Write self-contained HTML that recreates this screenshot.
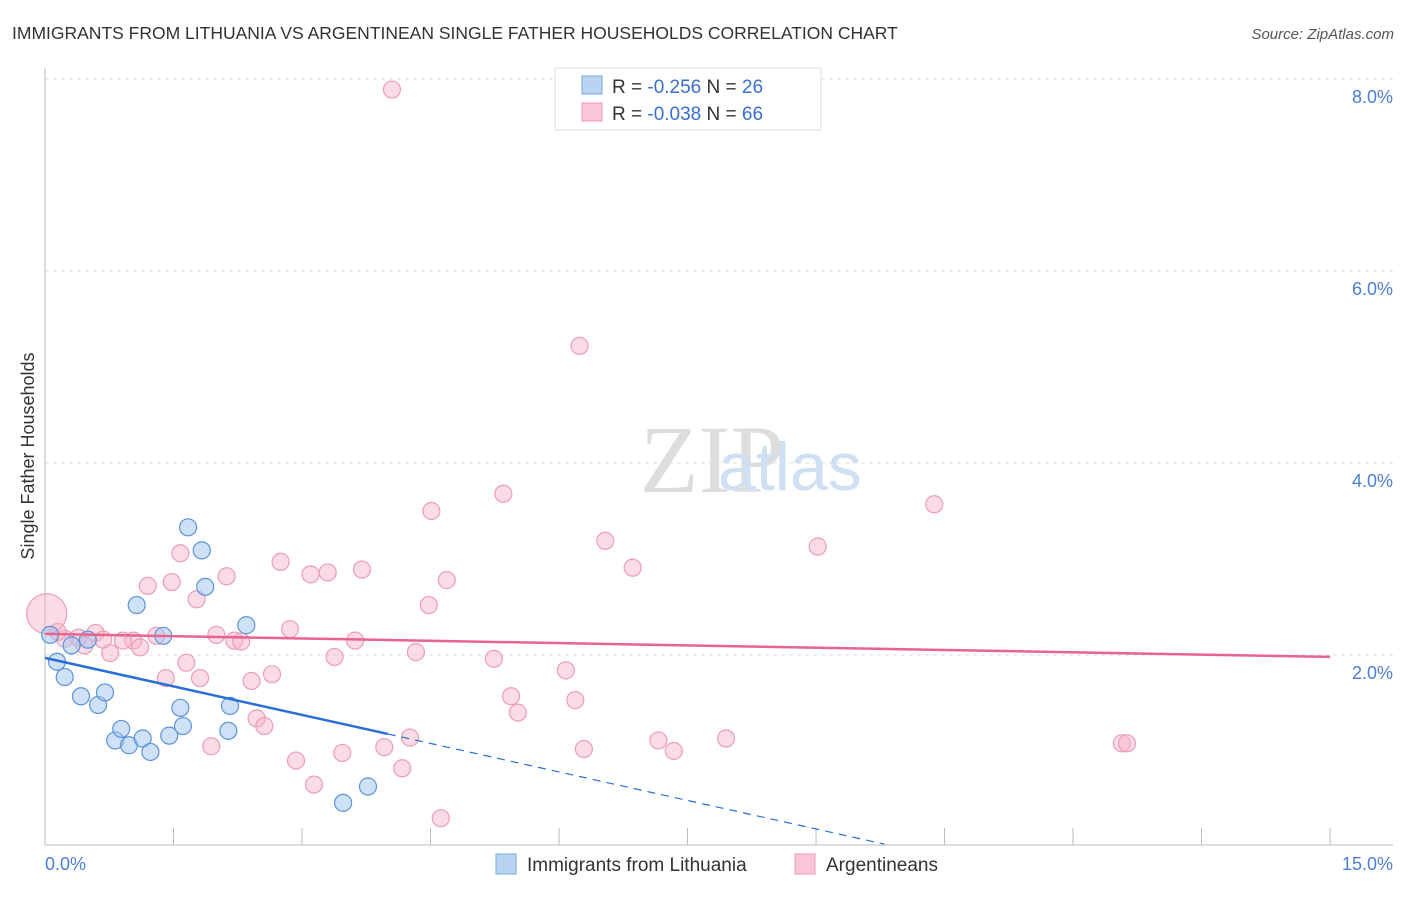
<!DOCTYPE html>
<html><head><meta charset="utf-8"><style>
body{margin:0;background:#fff;font-family:"Liberation Sans",sans-serif;}
</style></head><body>
<svg width="1406" height="892" xmlns="http://www.w3.org/2000/svg" style="font-family:'Liberation Sans',sans-serif">
<text x="12" y="39" font-size="17.5" fill="#333">IMMIGRANTS FROM LITHUANIA VS ARGENTINEAN SINGLE FATHER HOUSEHOLDS CORRELATION CHART</text>
<text x="1394" y="39" font-size="15" fill="#555" font-style="italic" text-anchor="end">Source: ZipAtlas.com</text>
<text transform="translate(34,456) rotate(-90)" font-size="18" fill="#333" text-anchor="middle">Single Father Households</text>
<g id="grid"></g>
<line x1="45" y1="68" x2="45" y2="845" stroke="#bbb"/>
<line x1="45" y1="845" x2="1393" y2="845" stroke="#bbb"/>
<text x="640" y="492" font-size="96" fill="#ddd" font-family="Liberation Serif,serif">ZIP</text>
<text x="718" y="490" font-size="68" fill="#cfe0f3">atlas</text>
<g id="marks"></g>
<text x="45" y="870" font-size="18" fill="#4a7fd4">0.0%</text>
<text x="1393" y="870" font-size="18" fill="#4a7fd4" text-anchor="end">15.0%</text>
<g>
<rect x="555" y="68" width="266" height="62" fill="#fff" stroke="#ddd"/>
<rect x="582" y="76" width="20" height="18" fill="#b9d3f3" stroke="#7aa7e0"/>
<rect x="582" y="103" width="20" height="18" fill="#f9c6d6" stroke="#eb9ab4"/>
<text x="612" y="93" font-size="19" fill="#333">R = <tspan fill="#3a6fd0">-0.256</tspan>   N = <tspan fill="#3a6fd0">26</tspan></text>
<text x="612" y="120" font-size="19" fill="#333">R = <tspan fill="#3a6fd0">-0.038</tspan>   N = <tspan fill="#3a6fd0">66</tspan></text>
</g>
<g>
<rect x="496" y="854" width="20" height="20" fill="#b9d3f3" stroke="#7aa7e0"/>
<text x="527" y="871" font-size="19" fill="#333">Immigrants from Lithuania</text>
<rect x="795" y="854" width="20" height="20" fill="#f9c6d6" stroke="#eb9ab4"/>
<text x="826" y="871" font-size="19" fill="#333">Argentineans</text>
</g>
</svg>
<script>
const yTicks=[2,4,6,8];
const xTicks=[0,1.5,3,4.5,6,7.5,9,10.5,12,13.5,15];
const blueX=[0.06,0.14,0.23,0.31,0.50,0.42,0.62,0.70,0.82,0.89,0.98,1.14,1.23,1.07,1.38,1.45,1.58,1.61,1.67,1.83,1.87,2.14,2.16,2.35,3.48,3.77];
const blueY=[2.21,1.93,1.77,2.10,2.16,1.57,1.48,1.61,1.11,1.23,1.06,1.13,0.99,2.52,2.20,1.16,1.45,1.26,3.33,3.09,2.71,1.21,1.47,2.31,0.46,0.63];
const pinkX=[4.05,6.24,5.35,4.51,10.38,6.54,9.02,1.58,2.75,6.86,3.70,3.10,3.30,2.12,4.69,1.48,1.20,1.77,4.48,2.86,2.00,3.62,2.21,2.29,1.30,0.59,1.03,0.91,0.68,1.11,0.76,0.39,0.23,0.15,0.46,4.33,3.38,5.24,1.65,6.08,2.65,1.41,1.81,2.41,5.44,6.19,5.52,2.47,2.56,4.26,7.16,7.95,1.94,3.96,6.29,7.34,3.47,12.57,12.63,2.93,4.17,3.14,4.62,0.02];
const pinkY=[7.89,5.22,3.68,3.50,3.57,3.19,3.13,3.06,2.97,2.91,2.89,2.84,2.86,2.82,2.78,2.76,2.72,2.58,2.52,2.27,2.21,2.15,2.15,2.14,2.20,2.23,2.15,2.15,2.16,2.08,2.02,2.18,2.17,2.24,2.10,2.03,1.98,1.96,1.92,1.84,1.80,1.76,1.76,1.73,1.57,1.53,1.40,1.34,1.26,1.14,1.11,1.13,1.05,1.04,1.02,1.00,0.98,1.08,1.08,0.90,0.82,0.65,0.30,2.43];
const blueTrend=[1.97,-0.198];
const pinkTrend=[2.22,-0.016];
const X=v=>45+v*85.67, Y=v=>847-v*96;
const NS='http://www.w3.org/2000/svg';
const grid=document.getElementById('grid'), marks=document.getElementById('marks');
yTicks.forEach(t=>{
 const l=document.createElementNS(NS,'line');
 
 
 l.setAttribute('x1',45);l.setAttribute('x2',1393);l.setAttribute('y1',Y(t));l.setAttribute('y2',Y(t));
 l.setAttribute('stroke','#ddd');l.setAttribute('stroke-dasharray','4,4');grid.appendChild(l);
 const tx=document.createElementNS(NS,'text');
 
 
 tx.setAttribute('x',1393);tx.setAttribute('y',Y(t)+24);tx.setAttribute('text-anchor','end');
 tx.setAttribute('font-size','18');tx.setAttribute('fill','#4a7fd4');tx.textContent=t.toFixed(1)+'%';grid.appendChild(tx);
});
xTicks.forEach(t=>{
 const l=document.createElementNS(NS,'line');
 
 
 l.setAttribute('x1',X(t));l.setAttribute('x2',X(t));l.setAttribute('y1',828);l.setAttribute('y2',845);
 l.setAttribute('stroke','#bbb');grid.appendChild(l);
});
function dot(x,y,fill,stroke,r){
 const c=document.createElementNS(NS,'circle');
 
 
 c.setAttribute('cx',X(x));c.setAttribute('cy',Y(y));c.setAttribute('r',r);
 c.setAttribute('fill',fill);c.setAttribute('stroke',stroke);c.setAttribute('stroke-width','1.2');marks.appendChild(c);
}
pinkX.forEach((x,i)=>dot(x,pinkY[i],'rgba(246,178,200,0.45)','#ec9db6',i===pinkX.length-1?20:8.5));
blueX.forEach((x,i)=>dot(x,blueY[i],'rgba(160,196,240,0.5)','#5c93dc',8.5));
function line(x1,x2,tr,col,dash,name){
 const l=document.createElementNS(NS,'line');
 
 
 l.setAttribute('x1',X(x1));l.setAttribute('x2',X(x2));
 l.setAttribute('y1',Y(tr[0]+tr[1]*x1));l.setAttribute('y2',Y(tr[0]+tr[1]*x2));
 l.setAttribute('stroke',col);l.setAttribute('stroke-width',dash?1.2:2.5);
 if(dash)l.setAttribute('stroke-dasharray','8,6');marks.appendChild(l);
}
line(0,15,pinkTrend,'#e8638e',false,'pink-trend-line');
line(0,4.0,blueTrend,'#2a6fd6',false,'blue-trend-line');
line(4.0,9.8,blueTrend,'#2a6fd6',true,'blue-trend-extension');
</script>
</body></html>
